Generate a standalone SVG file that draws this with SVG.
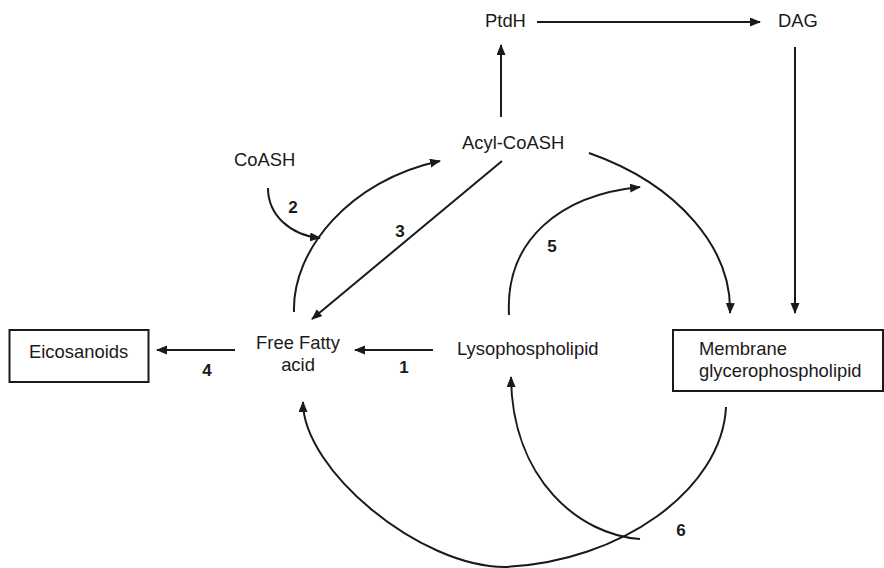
<svg xmlns="http://www.w3.org/2000/svg" width="884" height="568" viewBox="0 0 884 568">
  <style>
    .lbl { font-family: "Liberation Sans", Arial, sans-serif; font-size: 18.4px; fill: #1a1a1a; }
    .num { font-family: "Liberation Sans", Arial, sans-serif; font-size: 17px; font-weight: bold; fill: #1a1a1a; text-anchor: middle; }
    .box { fill: #ffffff; stroke: #1a1a1a; stroke-width: 2; }
    .edge { fill: none; stroke: #1a1a1a; stroke-width: 2; marker-end: url(#head); }
    .plain { fill: none; stroke: #1a1a1a; stroke-width: 2; }
  </style>
  <defs>
    <marker id="head" markerUnits="userSpaceOnUse" markerWidth="12" markerHeight="10" refX="10" refY="4.5" orient="auto">
      <path d="M0,0 L11,4.5 L0,9 z" fill="#1a1a1a"/>
    </marker>
  </defs>
  <rect width="884" height="568" fill="#ffffff"/>

  <!-- connectors -->
  <g id="connectors">
    <path class="edge" d="M537 22 L760 22"/>
    <path class="edge" d="M501 117 L501 45"/>
    <path class="edge" d="M795 47 L795 313"/>
    <path class="edge" d="M589 153 C680 185 732 250 730 313"/>
    <path class="edge" d="M235 350 L157 350"/>
    <path class="edge" d="M433 350 L355 350"/>
    <path class="edge" d="M502 161 L312 319"/>
    <path class="edge" d="M294 312 C292 250 350 180 440 161"/>
    <path class="edge" d="M268 188 C268 215 290 235 320 238"/>
    <path class="edge" d="M509 315 C505 240 560 195 640 187"/>
    <path class="edge" d="M726 407 C722 490 620 562 505 567 C420 567 303 470 303 402"/>
    <path class="edge" d="M640 539 C580 535 512 480 511 377"/>
  </g>

  <!-- step numbers -->
  <g id="steps">
    <text class="num" x="404" y="373">1</text>
    <text class="num" x="293" y="213">2</text>
    <text class="num" x="400" y="237">3</text>
    <text class="num" x="207" y="376">4</text>
    <text class="num" x="552" y="252">5</text>
    <text class="num" x="681" y="536">6</text>
  </g>

  <g id="ptdh"><text class="lbl" x="485" y="27">PtdH</text></g>
  <g id="dag"><text class="lbl" x="778" y="27">DAG</text></g>
  <g id="acyl-coash"><text class="lbl" x="462" y="149">Acyl-CoASH</text></g>
  <g id="coash"><text class="lbl" x="234" y="166">CoASH</text></g>
  <g id="eicosanoids">
    <rect class="box" x="9.5" y="330" width="139" height="52"/>
    <text class="lbl" x="29" y="358">Eicosanoids</text>
  </g>
  <g id="free-fatty-acid">
    <text class="lbl" x="298" y="349" text-anchor="middle">Free Fatty</text>
    <text class="lbl" x="298" y="371" text-anchor="middle">acid</text>
  </g>
  <g id="lysophospholipid"><text class="lbl" x="457" y="355">Lysophospholipid</text></g>
  <g id="membrane">
    <rect class="box" x="673" y="330" width="210" height="61"/>
    <text class="lbl" x="699" y="355">Membrane</text>
    <text class="lbl" x="699" y="377">glycerophospholipid</text>
  </g>
</svg>
